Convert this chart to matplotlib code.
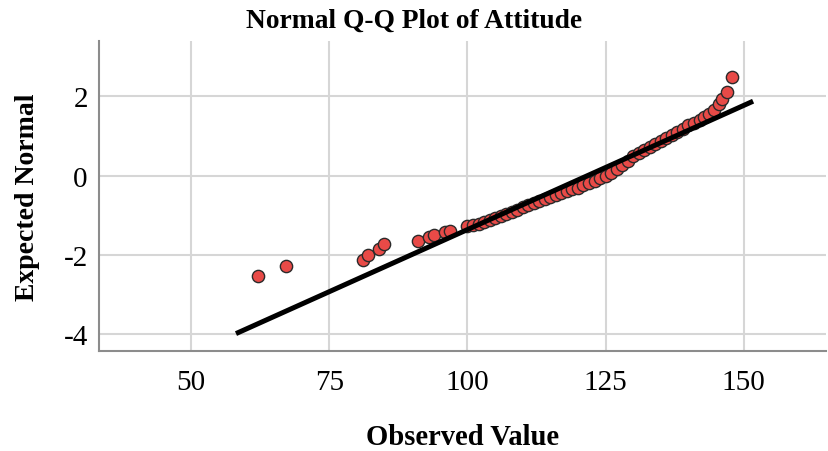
import matplotlib
matplotlib.use("Agg")
import matplotlib.pyplot as plt

# Observed attitude scores and their expected normal quantiles
observed = [62.1, 67.1, 81.1, 82.0, 84.0, 84.9, 91.0, 93.0, 94.0, 95.9, 96.8,
            100, 101, 102, 103, 104, 105, 106, 107, 108, 109, 110, 111, 112,
            113, 114, 115, 116, 117, 118, 119, 120, 121, 122, 123, 124, 125,
            126, 127, 128, 129, 130, 131, 132, 133, 134, 135, 136, 137, 138,
            139, 140, 141, 142, 142.9, 143.8, 144.7, 145.5, 146.1, 147.0, 147.9]
expected = [-2.54, -2.29, -2.12, -2.00, -1.86, -1.72, -1.64, -1.55, -1.49, -1.43, -1.39,
            -1.27, -1.24, -1.21, -1.17, -1.13, -1.08, -1.03, -0.98, -0.92, -0.86, -0.80,
            -0.75, -0.70, -0.65, -0.60, -0.55, -0.50, -0.45, -0.40, -0.35, -0.30, -0.24,
            -0.19, -0.13, -0.07, -0.01, 0.07, 0.16, 0.27, 0.38, 0.50, 0.58, 0.66, 0.73,
            0.80, 0.87, 0.95, 1.03, 1.11, 1.19, 1.27, 1.34, 1.41, 1.47, 1.55, 1.66,
            1.81, 1.93, 2.12, 2.49]

# Reference normal line
line_x = [58.1, 151.7]
line_y = [-3.99, 1.88]

x_ticks = [50, 75, 100, 125, 150]
y_ticks = [-4, -2, 0, 2]

title = "Normal Q-Q Plot of Attitude"
x_label = "Observed Value"
y_label = "Expected Normal"

plt.rcParams["font.family"] = ["Liberation Serif", "DejaVu Serif"]
plt.rcParams["axes.unicode_minus"] = False

fig = plt.figure(figsize=(8.29, 4.52), dpi=100)
ax = fig.add_axes([0.1194, 0.2212, 0.8770, 0.6858])

ax.set_xlim(33.3, 164.9)
ax.set_ylim(-4.43, 3.40)
ax.set_xticks(x_ticks)
ax.set_yticks(y_ticks)

ax.grid(True, color="#D6D6D6", linewidth=1.5)
ax.set_axisbelow(True)

for side in ("top", "right"):
    ax.spines[side].set_visible(False)
for side in ("left", "bottom"):
    ax.spines[side].set_color("#8C8C8C")
    ax.spines[side].set_linewidth(1.5)

ax.tick_params(axis="both", length=0, labelsize=21, colors="black")
ax.tick_params(axis="x", pad=13)
ax.tick_params(axis="y", pad=8)

ax.scatter(observed, expected, s=78, color="#E84A47", edgecolors="#2A2A2A",
           linewidths=1.0, zorder=3)
ax.plot(line_x, line_y, color="black", linewidth=3.6, solid_capstyle="butt", zorder=4)

fig.text(0.5, 0.952, title, ha="center", va="center", fontsize=19.8, fontweight="bold")
ax.set_xlabel(x_label, fontsize=20.6, fontweight="bold", labelpad=20)
ax.set_ylabel(y_label, fontsize=20, fontweight="bold", labelpad=17)

fig.savefig("out.png", dpi=100)
